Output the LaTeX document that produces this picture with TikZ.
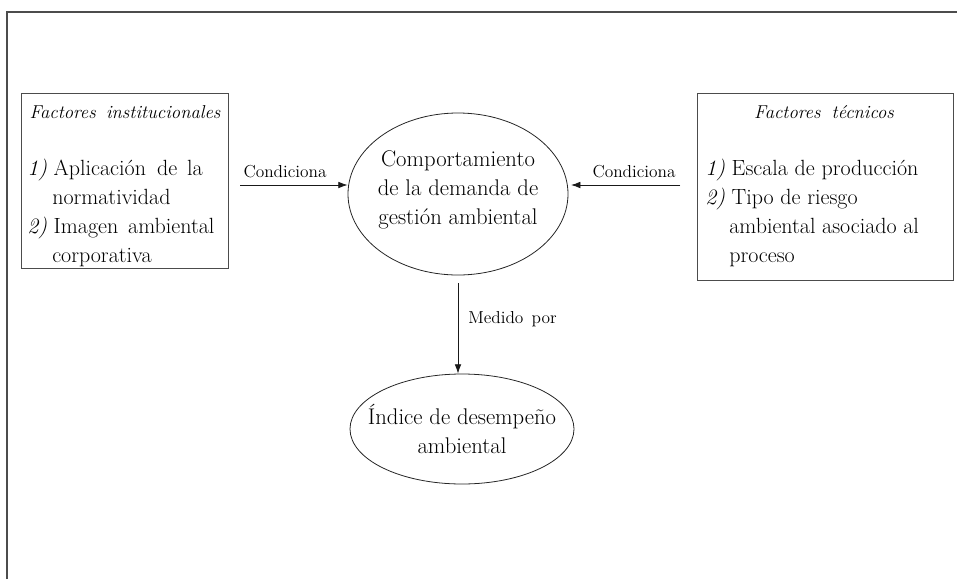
\documentclass[tikz,border=0pt]{standalone}
\usetikzlibrary{shapes.geometric,arrows.meta}
\begin{document}
\begin{tikzpicture}[x=0.75pt,y=-0.75pt,
  box/.style={draw=black!70, line width=0.8pt, inner sep=0pt, anchor=north west},
  oval/.style={ellipse, draw=black!85, line width=0.6pt, inner sep=0pt},
  ovaltxt/.style={inner sep=0pt, align=center, font=\fontsize{17}{22}\selectfont},
  body/.style={inner sep=0pt, anchor=base west, font=\fontsize{16.5}{22}\selectfont},
  ttl/.style={inner sep=0pt, anchor=base, font=\fontsize{14}{17}\selectfont\itshape},
  lbl/.style={inner sep=0pt, anchor=base, font=\fontsize{13}{15}\selectfont},
  arr/.style={-{Latex[length=7pt,width=5pt]}, line width=0.6pt, draw=black!90, fill=black!90},
  frame/.style={draw=black!70, line width=0.8pt}]
\useasboundingbox (0,0) rectangle (957,579);
\draw[frame] (7,579) -- (7,12) -- (957,12);

% left box
\node[box, minimum width=155.25pt, minimum height=131.25pt] (lbox) at (21,93) {};
\node[ttl] (lt) at (125,118) {Factores\hspace{0.2em} institucionales};
\node[body] (l1) at (27,175) {\textit{1)} Aplicación\hspace{0.2em} de\hspace{0.15em} la};
\node[body] (l2) at (52,204) {normatividad};
\node[body] (l3) at (27,233) {\textit{2)} Imagen\hspace{0.15em} ambiental};
\node[body] (l4) at (52,262) {corporativa};

% right box
\node[box, minimum width=192pt, minimum height=140.25pt] (rbox) at (697,93) {};
\node[ttl] (rt) at (824,118) {Factores\hspace{0.25em} técnicos};
\node[body] (r1) at (705,175) {\textit{1)} Escala de producción};
\node[body] (r2) at (705,204) {\textit{2)} Tipo de riesgo};
\node[body] (r3) at (729,233) {ambiental asociado al};
\node[body] (r4) at (729,262) {proceso};

% ellipses
\node[oval, minimum width=165pt, minimum height=121.5pt] (comp) at (458,194) {};
\node[ovaltxt] (compt) at (458,190) {Comportamiento\\de la demanda de\\gestión ambiental};
\node[oval, minimum width=168pt, minimum height=82.5pt] (idx) at (462,429) {};
\node[ovaltxt] (idxt) at (462,429) {Índice de desempeño\\ambiental};

% connectors
\coordinate (la) at (240,185);
\draw[arr] (la) -- (la -| comp.west);
\coordinate (ra) at (680,185);
\draw[arr, shorten >=2pt] (ra) -- (ra -| comp.east);
\draw[arr, shorten <=6pt] (comp.south) -- (comp.south |- idx.north);

% labels
\node[lbl] (c1) at (285,177) {Condiciona};
\node[lbl] (c2) at (634,177) {Condiciona};
\node[lbl, anchor=base west] (m1) at (468,323) {Medido\hspace{0.15em} por};
\end{tikzpicture}
\end{document}
